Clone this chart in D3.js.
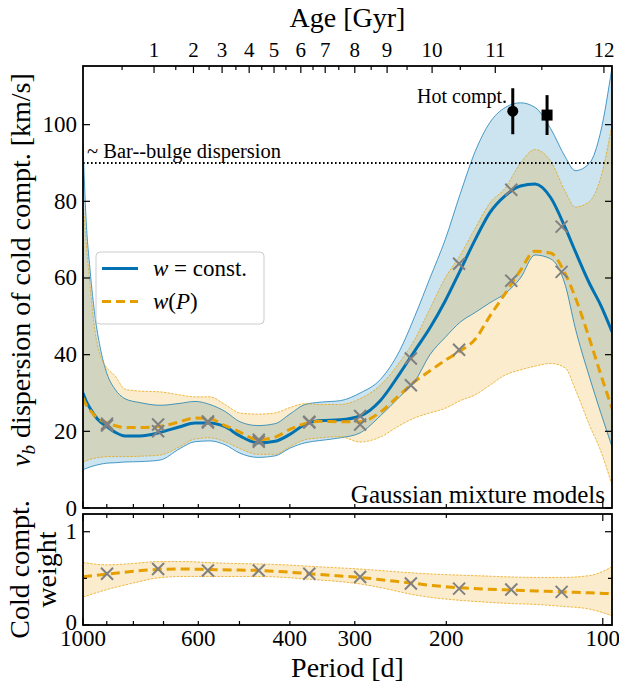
<!DOCTYPE html>
<html>
<head>
<meta charset="utf-8">
<script src="https://cdn.jsdelivr.net/npm/d3@7/dist/d3.min.js"></script>
<style>
body { margin:0; background:#fff; }
svg text { font-family: "Liberation Serif", "Times New Roman", "DejaVu Serif", serif; fill:#000; }
</style>
</head>
<body>
<div id="vis_container"></div>
<script>
// ---- data ----
// period grid [d] for the smoothed curves of the upper panel
var period = [1000, 987, 969, 948, 927, 899, 868, 830, 777, 711, 651, 609, 570, 533, 499, 461, 427, 400, 374, 350,
	320, 293, 268, 246, 230, 215, 201, 188, 176, 165, 154, 144, 135, 126, 118, 113, 106, 101, 96];
// w = const.
var sigConst   = [30, 28, 26, 24, 22.5, 21.2, 19.8, 18.8, 18.8, 19.7, 21.2, 22.2, 22.2, 21.2, 18.8, 17, 17.4, 19.2, 21.8, 22.8,
	23, 24, 28, 35, 41, 47, 54, 62, 70, 77, 81.5, 84, 84.5, 81, 73, 67, 58.5, 53, 46];
var sigConstHi = [95, 76, 62, 50, 42, 35, 31, 28.5, 27.5, 26.8, 27.3, 27.8, 27, 25.2, 22.5, 21.5, 22, 24.5, 27, 27.6,
	28, 30, 33.5, 41, 50, 60, 70, 82, 93, 100.5, 104.5, 105.7, 104.5, 99, 91.5, 88, 90, 98, 115];
var sigConstLo = [10, 10.3, 10.7, 11.1, 11.4, 11.7, 11.8, 12, 12.1, 12.5, 15.5, 17.3, 17.5, 16.5, 14.3, 13.2, 13.6, 15.6, 17, 17.6,
	18.3, 19.6, 24, 29, 33, 40, 44.5, 48.5, 51, 53.5, 56, 60, 66, 65, 58, 47, 34, 25, 16];
// w(P)
var sigVar   = [28.7, 27, 25.5, 24, 23, 22.2, 21.5, 21, 21, 21.3, 22.5, 23.5, 23.3, 21.5, 19.8, 17.8, 18.5, 20.5, 22, 22.6,
	22.5, 22.5, 25, 29.5, 33, 35.8, 38.5, 41, 44, 50, 56, 62, 67, 66.5, 61, 55, 44, 35, 26];
var sigVarHi = [80, 70, 58, 46, 40, 36.5, 34.5, 31, 30.5, 30.3, 29.5, 29, 29, 27, 24.8, 24.5, 24.8, 26.2, 27.2, 27,
	27, 28.5, 32, 38, 44, 52, 60, 66, 73, 79.5, 83.5, 90, 93.5, 90.5, 82.5, 78.5, 80, 86, 100];
var sigVarLo = [12, 12.3, 12.7, 13, 13.2, 13.4, 13.4, 13.4, 13.5, 13.8, 16, 18, 18.3, 17.3, 15.5, 14, 14, 16, 17.8, 18.3,
	18.6, 17.2, 18.5, 21.5, 23.5, 24.8, 26, 28, 29.5, 32, 34.7, 36, 37, 37.7, 36.5, 31, 21.5, 15, 6];

// binned Gaussian mixture fits (crosses)
var binPeriod = [899, 717, 575, 459, 367, 293, 234, 189, 150, 120];
var binConst  = [21.5, 20, 22.3, 17.3, 22.5, 24, 39, 63.7, 83, 73.4];
var binVar    = [22, 21.8, 22.6, 17.8, 22.3, 21.8, 32, 41.3, 59.3, 61.6];
var binWeight = [0.55, 0.6, 0.585, 0.585, 0.55, 0.515, 0.445, 0.39, 0.38, 0.355];

// weight of cold component, w(P)
var wPeriod  = [1000, 899, 800, 717, 640, 575, 515, 459, 410, 367, 328, 293, 262, 234, 210, 189, 168, 150, 134, 120, 106, 96];
var weight   = [0.516, 0.545, 0.575, 0.596, 0.6, 0.595, 0.59, 0.585, 0.57, 0.55, 0.53, 0.51, 0.48, 0.45, 0.42, 0.4, 0.385, 0.375, 0.365, 0.355, 0.345, 0.335];
var weightHi = [0.67, 0.645, 0.66, 0.68, 0.68, 0.67, 0.66, 0.655, 0.645, 0.63, 0.615, 0.6, 0.58, 0.56, 0.545, 0.535, 0.525, 0.515, 0.51, 0.51, 0.53, 0.625];
var weightLo = [0.3, 0.38, 0.45, 0.505, 0.52, 0.52, 0.52, 0.52, 0.51, 0.49, 0.47, 0.44, 0.39, 0.33, 0.29, 0.265, 0.245, 0.23, 0.22, 0.2, 0.17, 0.1];

// hot component
var hotPeriod = [149, 128];
var hotSigma  = [103.5, 102.5];
var hotErr    = [6, 5.2];

// top axis: age [Gyr] and the period it sits at
var ageTicks  = [0.5, 1, 1.5, 2, 2.5, 3, 3.5, 4, 4.5, 5, 5.5, 6, 6.5, 7, 7.5, 8, 8.5, 9, 9.5, 10, 10.5, 11, 11.5, 12];
var agePeriod = [841, 730, 663, 613, 572, 540, 508, 479, 453, 429, 407, 381, 361, 342, 322, 300, 279, 260, 238, 213, 188, 161, 131, 99.5];

var periodTicks  = [1000, 900, 800, 700, 600, 500, 400, 300, 200, 100];
var periodLabels = [1000, 600, 400, 300, 200, 100];
var sigmaTicks   = [0, 20, 40, 60, 80, 100];
var barBulge     = 90;

// ---- layout ----
var chart = {};
chart.width = 619;
chart.height = 686;
chart.left = 83;
chart.right = 612;
chart.top = 66;
chart.mid = 508;
chart.top2 = 514;
chart.bottom = 625;

var blue = "#0072B2", orange = "#E69F00", grey = "#808080";

chart.svg = d3.select("#vis_container").append("svg")
	.attr("width", chart.width)
	.attr("height", chart.height)
	.attr("font-family", "Liberation Serif, Times New Roman, serif")
	.style("background-color", "#FFFFFF");

chart.x = d3.scaleLog().domain([1000, 96]).range([chart.left, chart.right]);
chart.y = d3.scaleLinear().domain([0, 115.3]).range([chart.mid, chart.top]);
chart.y2 = d3.scaleLinear().domain([0, 1.19]).range([chart.bottom, chart.top2]);

var defs = chart.svg.append("defs");
defs.append("clipPath").attr("id", "clipTop").append("rect")
	.attr("x", chart.left).attr("y", chart.top)
	.attr("width", chart.right - chart.left).attr("height", chart.mid - chart.top);
defs.append("clipPath").attr("id", "clipBot").append("rect")
	.attr("x", chart.left).attr("y", chart.top2)
	.attr("width", chart.right - chart.left).attr("height", chart.bottom - chart.top2);

// ---- upper panel ----
var upper = chart.svg.append("g").attr("clip-path", "url(#clipTop)");

function band(lo, hi, px, ys) {
	return d3.area()
		.x(function(d, i) { return chart.x(px[i]); })
		.y0(function(d, i) { return ys(lo[i]); })
		.y1(function(d, i) { return ys(hi[i]); })
		.curve(d3.curveMonotoneX)(px);
}
function curve(vals, px, ys) {
	return d3.line()
		.x(function(d, i) { return chart.x(px[i]); })
		.y(function(d, i) { return ys(vals[i]); })
		.curve(d3.curveMonotoneX)(px);
}

upper.append("path").attr("d", band(sigConstLo, sigConstHi, period, chart.y))
	.attr("fill", blue).attr("fill-opacity", 0.2);
upper.append("path").attr("d", band(sigVarLo, sigVarHi, period, chart.y))
	.attr("fill", orange).attr("fill-opacity", 0.2);

[sigConstLo, sigConstHi].forEach(function(arr) {
	upper.append("path").attr("d", curve(arr, period, chart.y))
		.attr("fill", "none").attr("stroke", blue).attr("stroke-width", 0.7);
});
[sigVarLo, sigVarHi].forEach(function(arr) {
	upper.append("path").attr("d", curve(arr, period, chart.y))
		.attr("fill", "none").attr("stroke", orange).attr("stroke-width", 0.7)
		.attr("stroke-dasharray", "2.5,1.2");
});

// bar-bulge dispersion
upper.append("line")
	.attr("x1", chart.left).attr("x2", chart.right)
	.attr("y1", chart.y(barBulge)).attr("y2", chart.y(barBulge))
	.attr("stroke", "#000").attr("stroke-width", 2).attr("stroke-dasharray", "1.6,2.4");

upper.append("path").attr("d", curve(sigConst, period, chart.y))
	.attr("fill", "none").attr("stroke", blue).attr("stroke-width", 3);
upper.append("path").attr("d", curve(sigVar, period, chart.y))
	.attr("fill", "none").attr("stroke", orange).attr("stroke-width", 3)
	.attr("stroke-dasharray", "9,5");

function crosses(g, px, vals, ys) {
	g.selectAll(null).data(px).enter().append("path")
		.attr("transform", function(d, i) { return "translate(" + chart.x(d) + "," + ys(vals[i]) + ")"; })
		.attr("d", "M-6,-6L6,6M-6,6L6,-6")
		.attr("stroke", grey).attr("stroke-width", 2).attr("fill", "none");
}
crosses(upper, binPeriod, binConst, chart.y);
crosses(upper, binPeriod, binVar, chart.y);

// hot component with error bars
hotPeriod.forEach(function(p, i) {
	var cx = chart.x(p), cy = chart.y(hotSigma[i]);
	upper.append("line").attr("x1", cx).attr("x2", cx)
		.attr("y1", chart.y(hotSigma[i] - hotErr[i])).attr("y2", chart.y(hotSigma[i] + hotErr[i]))
		.attr("stroke", "#000").attr("stroke-width", 3);
	if (i == 0) {
		upper.append("circle").attr("cx", cx).attr("cy", cy).attr("r", 5.5).attr("fill", "#000");
	} else {
		upper.append("rect").attr("x", cx - 5.5).attr("y", cy - 5.5).attr("width", 11).attr("height", 11).attr("fill", "#000");
	}
});

chart.svg.append("text").attr("x", 507).attr("y", 103).attr("text-anchor", "end")
	.style("font-size", "20px").text("Hot compt.");
chart.svg.append("text").attr("x", 87).attr("y", 158)
	.style("font-size", "20.5px").text("~ Bar--bulge dispersion");
chart.svg.append("text").attr("x", 605).attr("y", 503).attr("text-anchor", "end")
	.style("font-size", "25px").text("Gaussian mixture models");

// legend
var leg = chart.svg.append("g");
leg.append("rect").attr("x", 96).attr("y", 252).attr("width", 168).attr("height", 72)
	.attr("rx", 4).attr("fill", "#fff").attr("fill-opacity", 0.8).attr("stroke", "#cccccc");
leg.append("line").attr("x1", 102).attr("x2", 138).attr("y1", 268.5).attr("y2", 268.5)
	.attr("stroke", blue).attr("stroke-width", 3);
leg.append("line").attr("x1", 102).attr("x2", 138).attr("y1", 301.5).attr("y2", 301.5)
	.attr("stroke", orange).attr("stroke-width", 3).attr("stroke-dasharray", "9,5");
var t1 = leg.append("text").attr("x", 153).attr("y", 276).style("font-size", "23px");
t1.append("tspan").style("font-style", "italic").text("w");
t1.append("tspan").text(" = const.");
var t2 = leg.append("text").attr("x", 153).attr("y", 309).style("font-size", "23px");
t2.append("tspan").style("font-style", "italic").text("w");
t2.append("tspan").text("(");
t2.append("tspan").style("font-style", "italic").text("P");
t2.append("tspan").text(")");

// ---- lower panel ----
var lower = chart.svg.append("g").attr("clip-path", "url(#clipBot)");
lower.append("path").attr("d", band(weightLo, weightHi, wPeriod, chart.y2))
	.attr("fill", orange).attr("fill-opacity", 0.2);
[weightLo, weightHi].forEach(function(arr) {
	lower.append("path").attr("d", curve(arr, wPeriod, chart.y2))
		.attr("fill", "none").attr("stroke", orange).attr("stroke-width", 0.7)
		.attr("stroke-dasharray", "2.5,1.2");
});
lower.append("path").attr("d", curve(weight, wPeriod, chart.y2))
	.attr("fill", "none").attr("stroke", orange).attr("stroke-width", 3)
	.attr("stroke-dasharray", "9,5");
crosses(lower, binPeriod, binWeight, chart.y2);

// ---- axes ----
function isDecade(d) { return d == 1000 || d == 100; }

function periodAxis(yPos, labelled, sign) {
	var g = chart.svg.append("g").attr("transform", "translate(0," + yPos + ")");
	periodTicks.forEach(function(d) {
		var len = isDecade(d) ? 7 : 4;
		g.append("line").attr("x1", chart.x(d)).attr("x2", chart.x(d))
			.attr("y1", 0).attr("y2", sign * len).attr("stroke", "#000").attr("stroke-width", 1.2);
	});
	if (labelled) {
		periodLabels.forEach(function(d) {
			g.append("text").attr("x", chart.x(d)).attr("y", 21).attr("text-anchor", "middle")
				.style("font-size", "23px").text(d);
		});
	}
}
periodAxis(chart.mid, false, -1);
periodAxis(chart.top2, false, 1);
periodAxis(chart.bottom, true, -1);

// age axis on top
var ageG = chart.svg.append("g").attr("transform", "translate(0," + chart.top + ")");
ageTicks.forEach(function(a, i) {
	var major = (a % 1 == 0);
	var px = chart.x(agePeriod[i]);
	ageG.append("line").attr("x1", px).attr("x2", px).attr("y1", 0).attr("y2", major ? 7 : 4)
		.attr("stroke", "#000").attr("stroke-width", 1.2);
	if (major) {
		ageG.append("text").attr("x", px).attr("y", -9).attr("text-anchor", "middle")
			.style("font-size", "21px").text(a);
	}
});

// left / right y ticks, upper panel
sigmaTicks.forEach(function(d) {
	var py = chart.y(d);
	chart.svg.append("line").attr("x1", chart.left).attr("x2", chart.left + 7).attr("y1", py).attr("y2", py)
		.attr("stroke", "#000").attr("stroke-width", 1.2);
	chart.svg.append("line").attr("x1", chart.right).attr("x2", chart.right - 7).attr("y1", py).attr("y2", py)
		.attr("stroke", "#000").attr("stroke-width", 1.2);
	chart.svg.append("text").attr("x", chart.left - 6).attr("y", py + 7.5).attr("text-anchor", "end")
		.style("font-size", "23px").text(d);
});
// lower panel
[0, 0.5, 1].forEach(function(d) {
	var py = chart.y2(d), len = (d == 0.5) ? 4 : 7;
	chart.svg.append("line").attr("x1", chart.left).attr("x2", chart.left + len).attr("y1", py).attr("y2", py)
		.attr("stroke", "#000").attr("stroke-width", 1.2);
	chart.svg.append("line").attr("x1", chart.right).attr("x2", chart.right - len).attr("y1", py).attr("y2", py)
		.attr("stroke", "#000").attr("stroke-width", 1.2);
	if (d != 0.5) {
		chart.svg.append("text").attr("x", chart.left - 6).attr("y", py + (d == 0 ? 5 : 7.5)).attr("text-anchor", "end")
			.style("font-size", "23px").text(d);
	}
});

// frames
[[chart.top, chart.mid], [chart.top2, chart.bottom]].forEach(function(r) {
	chart.svg.append("rect").attr("x", chart.left).attr("y", r[0])
		.attr("width", chart.right - chart.left).attr("height", r[1] - r[0])
		.attr("fill", "none").attr("stroke", "#000").attr("stroke-width", 1.8);
});

// axis titles
chart.svg.append("text").attr("x", (chart.left + chart.right) / 2).attr("y", 27).attr("text-anchor", "middle")
	.style("font-size", "28px").text("Age [Gyr]");
chart.svg.append("text").attr("x", (chart.left + chart.right) / 2).attr("y", 677).attr("text-anchor", "middle")
	.style("font-size", "28px").text("Period [d]");

var yl = chart.svg.append("text")
	.attr("transform", "translate(30,270) rotate(-90)")
	.attr("text-anchor", "middle").style("font-size", "28px");
yl.append("tspan").style("font-style", "italic").text("v");
yl.append("tspan").style("font-style", "italic").style("font-size", "19px").attr("dy", 5).text("b");
yl.append("tspan").attr("dy", -5).text(" dispersion of cold compt. [km/s]");

var yl2 = chart.svg.append("text")
	.attr("transform", "translate(0," + ((chart.top2 + chart.bottom) / 2) + ") rotate(-90)")
	.attr("text-anchor", "middle").style("font-size", "28px");
yl2.append("tspan").attr("x", 0).attr("y", 29).text("Cold compt.");
yl2.append("tspan").attr("x", 0).attr("y", 56).text("weight");
</script>
</body>
</html>
